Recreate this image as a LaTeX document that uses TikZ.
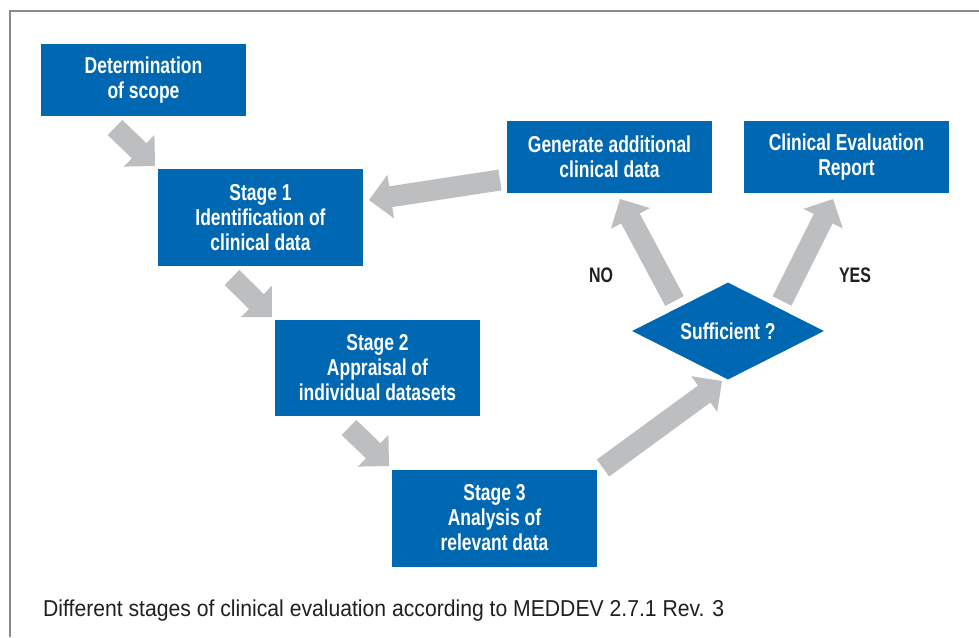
\documentclass[tikz,border=0pt]{standalone}
\usepackage{fontspec}
\setmainfont{Liberation Sans}
\newfontfamily\boxfont{Liberation Sans}[UprightFont={* Bold},FakeStretch=0.76]
\newfontfamily\capfont{Liberation Sans}[FakeStretch=0.92]
\usetikzlibrary{calc,shapes.geometric}
\definecolor{cblue}{RGB}{0,103,178}
\definecolor{agray}{RGB}{188,190,192}
\definecolor{fgray}{RGB}{138,138,138}
\definecolor{ink}{RGB}{35,31,32}
\newcommand\blockarr[2]{%
  \path ($(#2)!22pt!(#1)$) coordinate (nk);
  \fill[agray] ($(#1)!10.5pt!90:(#2)$) -- ($(nk)!10.5pt!90:(#2)$) -- ($(nk)!22pt!90:(#2)$) -- (#2)
    -- ($(nk)!22pt!-90:(#2)$) -- ($(nk)!10.5pt!-90:(#2)$) -- ($(#1)!10.5pt!-90:(#2)$) -- cycle;}
\tikzset{
  box/.style={fill=cblue, text=white, inner sep=0pt, minimum width=205pt, align=center,
    font=\boxfont\fontsize{23}{25}\selectfont},
  decide/.style={diamond, aspect=2, fill=cblue, text=white, inner sep=0pt,
    minimum width=192pt, minimum height=97pt, font=\boxfont\fontsize{23}{25}\selectfont},
  lbl/.style={text=ink, inner sep=0pt, font=\boxfont\fontsize{21}{24}\selectfont},
}
\begin{document}
\begin{tikzpicture}[x=1pt,y=-1pt]
\useasboundingbox[fill=white] (0,0) rectangle (979,637);
\draw[fgray, line width=2.5pt] (10,637) -- (10,11) -- (979,11);

\node[box, minimum height=72pt] (det) at (143.5,80) {Determination\\of scope};
\node[box, minimum height=97pt] (s1) at (260.5,217.5) {Stage 1\\Identification of\\clinical data};
\node[box, minimum height=96pt] (s2) at (377.5,368) {Stage 2\\Appraisal of\\individual datasets};
\node[box, minimum height=97pt] (s3) at (494.5,518) {Stage 3\\Analysis of\\relevant data};
\node[box, minimum height=72pt] (gen) at (609.5,157) {Generate additional\\clinical data};
\node[box, minimum height=72pt] (rep) at (846.5,157) {Clinical Evaluation\\Report};
\node[decide] (suf) at (728,331) {Sufficient ?};

\node[lbl] (no) at (601,275) {NO};
\node[lbl] (yes) at (855,275) {YES};

\coordinate (a1t) at (115,127.5); \coordinate (a1h) at (155,166);
\coordinate (a2t) at (232,277.5); \coordinate (a2h) at (272,317);
\coordinate (a3t) at (349,427.5); \coordinate (a3h) at (389,466);
\coordinate (a4t) at (603,468);   \coordinate (a4h) at (722,381);
\coordinate (a5t) at (500,180);   \coordinate (a5h) at (369,200);
\coordinate (a6t) at (674.5,301); \coordinate (a6h) at (620,199);
\coordinate (a7t) at (782,301);   \coordinate (a7h) at (833,199);
\blockarr{a1t}{a1h}
\blockarr{a2t}{a2h}
\blockarr{a3t}{a3h}
\blockarr{a4t}{a4h}
\blockarr{a5t}{a5h}
\blockarr{a6t}{a6h}
\blockarr{a7t}{a7h}

\node[anchor=base west, inner sep=0pt, text=ink, font=\capfont\fontsize{23}{25}\selectfont] (cap) at (43,616)
  {Different stages of clinical evaluation according to MEDDEV 2.7.1 Rev. 3};
\end{tikzpicture}
\end{document}
